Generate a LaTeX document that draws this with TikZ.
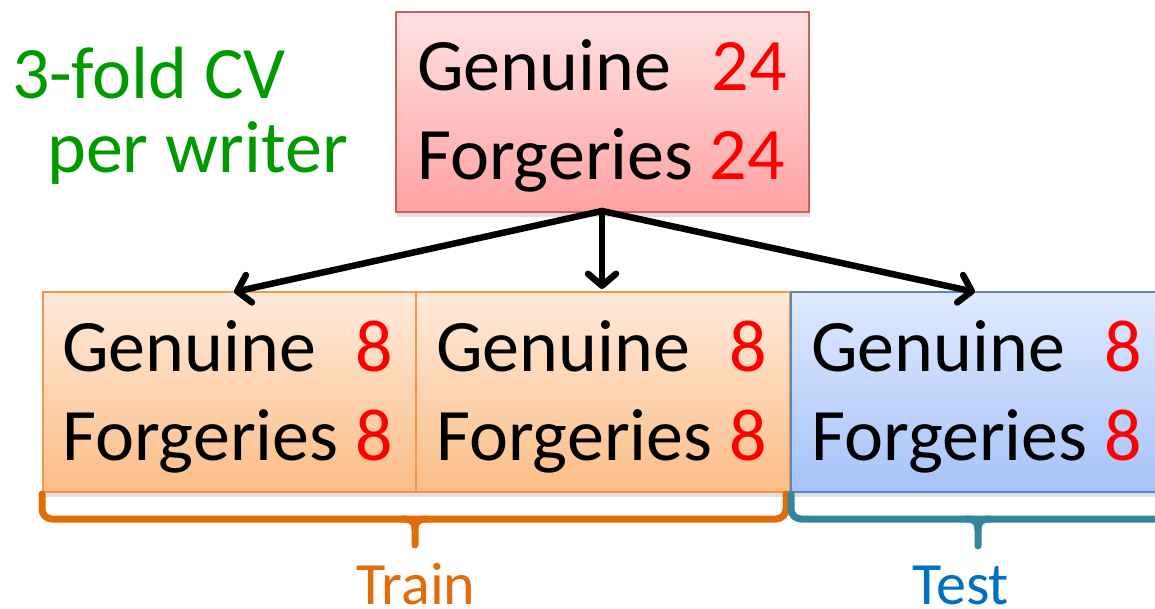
\documentclass[tikz,border=0pt]{standalone}
\usepackage{fontspec}
\setmainfont{Carlito}
\usetikzlibrary{arrows.meta,shadows}
\definecolor{pinktop}{HTML}{FFE2E2}
\definecolor{pinkbot}{HTML}{FFA2A2}
\definecolor{pinkline}{HTML}{C8605C}
\definecolor{orangetop}{HTML}{FFEADB}
\definecolor{orangebot}{HTML}{FBBD86}
\definecolor{orangeline}{HTML}{F3964C}
\definecolor{bluetop}{HTML}{E0EAFE}
\definecolor{bluebot}{HTML}{A5C3F9}
\definecolor{blueline}{HTML}{5A86C2}
\definecolor{cvgreen}{HTML}{009A00}
\definecolor{trainc}{HTML}{E36C0A}
\definecolor{testc}{HTML}{0070C0}
\definecolor{tealc}{HTML}{31859C}
\definecolor{numred}{HTML}{FF0000}
\tikzset{
  boxbase/.style={rectangle, anchor=north west, minimum height=200pt, line width=2pt, inner sep=0pt,
    drop shadow={shadow xshift=1pt, shadow yshift=-5pt, opacity=0.25}},
  pinkbox/.style={boxbase, draw=pinkline, top color=pinktop, bottom color=pinkbot},
  orangebox/.style={boxbase, draw=orangeline, top color=orangetop, bottom color=orangebot},
  bluebox/.style={boxbase, draw=blueline, top color=bluetop, bottom color=bluebot},
  bigtxt/.style={inner sep=0pt, font=\fontsize{74}{89}\selectfont},
  lbl/.style={bigtxt, anchor=base west, text=black},
  num/.style={bigtxt, anchor=base east, text=numred},
  cv/.style={bigtxt, anchor=base west, text=cvgreen},
  grp/.style={inner sep=0pt, anchor=base west, font=\fontsize{60}{70}\selectfont},
  arr/.style={line width=6.5pt, line cap=round, -{Straight Barb[length=12pt,width=28pt,line cap=round,line join=round]}},
  brc/.style={line width=7pt, line cap=round, line join=round}
}
\begin{document}
\begin{tikzpicture}[x=1pt,y=-1pt]
\useasboundingbox (0,0) rectangle (1155,609);

% boxes
\node[pinkbox, minimum width=413pt] (top) at (395,11) {};
\node[orangebox, minimum width=373pt] (b1) at (42,291) {};
\node[orangebox, minimum width=374pt] (b2) at (415,291) {};
\node[bluebox, minimum width=376pt] (b3) at (790,291) {};

% top box text
\node[lbl] (tg) at (417,91) {Genuine};
\node[num] (tgn) at (787,91) {24};
\node[lbl] (tf) at (417,180) {Forgeries};
\node[num] (tfn) at (785,180) {24};

% box 1 text
\node[lbl] (g1) at (62,371) {Genuine};
\node[num] (g1n) at (393,371) {8};
\node[lbl] (f1) at (62,460) {Forgeries};
\node[num] (f1n) at (393,460) {8};

% box 2 text
\node[lbl] (g2) at (436,371) {Genuine};
\node[num] (g2n) at (767,371) {8};
\node[lbl] (f2) at (436,460) {Forgeries};
\node[num] (f2n) at (767,460) {8};

% box 3 text
\node[lbl] (g3) at (811,371) {Genuine};
\node[num] (g3n) at (1142,371) {8};
\node[lbl] (f3) at (811,460) {Forgeries};
\node[num] (f3n) at (1142,460) {8};

% green caption
\node[cv] (cv1) at (12,99) {3-fold CV};
\node[cv] (cv2) at (47,173) {per writer};

% arrows
\coordinate (src) at (602,211);
\coordinate (t1) at (234,292);
\coordinate (t3) at (975,292);
\coordinate (t2) at (602,289);
\draw[arr] (src) -- (t1);
\draw[arr] (src) -- (t2);
\draw[arr] (src) -- (t3);

% train brace
\draw[brc, trainc] (42,494) -- (42,509) to[out=-90,in=180] (52,519) -- (776,519) to[out=0,in=-90] (786,509) -- (786,494);
\draw[brc, trainc] (403,519) .. controls (412,519) and (415,522) .. (415,530) -- (415,545);
\draw[brc, trainc] (427,519) .. controls (418,519) and (415,522) .. (415,530);
% test brace
\draw[brc, tealc] (791,494) -- (791,509) to[out=-90,in=180] (801,519) -- (1160,519);
\draw[brc, tealc] (966,519) .. controls (975,519) and (978,522) .. (978,530) -- (978,546);
\draw[brc, tealc] (990,519) .. controls (981,519) and (978,522) .. (978,530);

% group labels
\node[grp, text=trainc] (train) at (356,604) {Train};
\node[grp, text=testc] (test) at (912,604) {Test};
\end{tikzpicture}
\end{document}
